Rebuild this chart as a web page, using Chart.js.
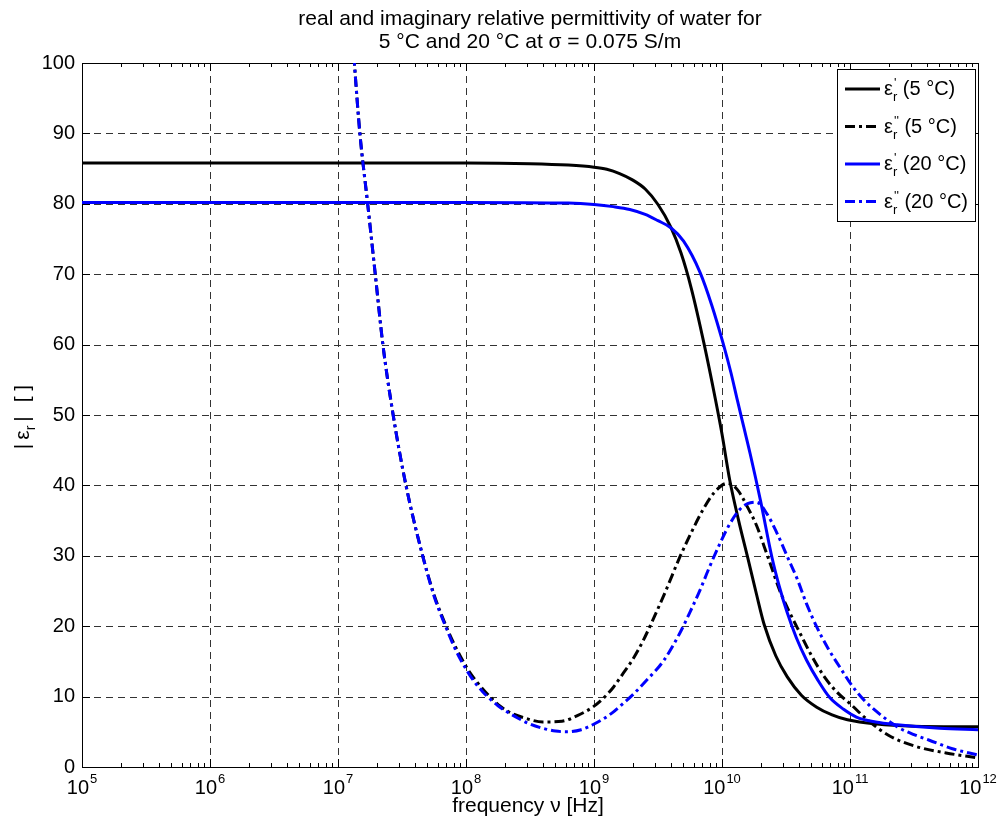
<!DOCTYPE html>
<html lang="en">
<head>
    <meta charset="UTF-8">
    <title>Permittivity of water</title>
    <script src="https://cdn.jsdelivr.net/npm/chart.js"></script>
    <style>
        body { margin: 0; padding: 0; background: #fff; }
        canvas { display: block; }
    </style>
</head>
<body>
    <canvas id="epsChart" width="998" height="827"></canvas>

    <script>
        // values, x given as log10(frequency in Hz)
        const expReal5 = [5, 7, 8, 8.5, 8.8, 9.0, 9.1, 9.2, 9.3, 9.4, 9.5, 9.6, 9.68, 9.76, 9.86, 9.95, 10.0, 10.06, 10.13, 10.2, 10.27, 10.33, 10.42, 10.51, 10.62, 10.74, 10.86, 10.98, 11.21, 11.5, 12];
        const epsReal5 = [85.8, 85.8, 85.8, 85.7, 85.5, 85.2, 84.9, 84.3, 83.4, 82.1, 79.9, 76.7, 73.0, 68.0, 60.1, 52.1, 47.3, 40.8, 35.0, 29.8, 24.5, 20.2, 15.8, 12.8, 10.2, 8.5, 7.4, 6.7, 6.1, 5.8, 5.7];

        const expImag5 = [7.1, 7.17, 7.23, 7.29, 7.35, 7.43, 7.53, 7.66, 7.75, 7.84, 7.92, 8.01, 8.08, 8.15, 8.27, 8.36, 8.45, 8.6, 8.75, 8.87, 8.99, 9.07, 9.15, 9.22, 9.3, 9.38, 9.45, 9.56, 9.67, 9.76, 9.85, 9.94, 10.04, 10.12, 10.2, 10.27, 10.33, 10.39, 10.45, 10.53, 10.61, 10.7, 10.8, 10.9, 11.0, 11.13, 11.3, 11.5, 11.75, 12];
        const epsImag5 = [107, 90.2, 80.3, 70.2, 60.1, 50.1, 40.1, 30.1, 24.5, 20.2, 17.0, 14.0, 12.2, 10.7, 8.6, 7.6, 7.0, 6.4, 6.5, 7.3, 8.5, 9.7, 11.3, 13.1, 15.2, 17.8, 20.5, 25.0, 29.8, 33.3, 36.5, 39.0, 40.3, 39.4, 36.9, 34.3, 31.3, 28.2, 25.1, 21.9, 19.0, 15.8, 12.8, 10.6, 9.0, 6.8, 4.5, 3.0, 2.0, 1.3];

        const expReal20 = [5, 8, 8.8, 9.0, 9.15, 9.28, 9.4, 9.5, 9.6, 9.7, 9.83, 9.92, 10.01, 10.07, 10.12, 10.17, 10.22, 10.3, 10.39, 10.45, 10.51, 10.58, 10.66, 10.75, 10.84, 10.95, 11.05, 11.2, 11.37, 11.7, 12];
        const epsReal20 = [80.2, 80.2, 80.1, 79.9, 79.6, 79.2, 78.5, 77.6, 76.6, 74.7, 70.2, 65.6, 60.1, 56.0, 52.1, 48.3, 44.5, 37.9, 29.8, 25.5, 21.9, 18.4, 15.2, 12.3, 9.9, 8.2, 7.1, 6.4, 6.0, 5.5, 5.3];

        const expImag20 = [7.1, 7.17, 7.23, 7.29, 7.35, 7.43, 7.53, 7.66, 7.75, 7.84, 7.92, 8.01, 8.07, 8.13, 8.25, 8.4, 8.5, 8.6, 8.7, 8.79, 8.9, 8.99, 9.07, 9.15, 9.22, 9.3, 9.42, 9.54, 9.67, 9.75, 9.83, 9.9, 9.98, 10.06, 10.14, 10.2, 10.27, 10.35, 10.43, 10.51, 10.59, 10.66, 10.74, 10.83, 10.92, 11.01, 11.11, 11.24, 11.37, 11.5, 11.62, 11.8, 12];
        const epsImag20 = [107, 90.2, 80.3, 70.2, 60.1, 50.1, 40.1, 30.1, 24.3, 20.0, 16.6, 13.6, 12.0, 10.7, 8.7, 7.0, 6.1, 5.5, 5.1, 5.0, 5.3, 6.0, 6.8, 7.8, 8.9, 10.2, 12.5, 15.0, 19.0, 22.0, 25.2, 28.3, 31.6, 34.5, 36.6, 37.4, 37.6, 36.0, 33.2, 29.9, 26.6, 23.2, 19.9, 16.8, 14.2, 11.7, 9.5, 7.4, 5.7, 4.6, 3.8, 2.6, 1.7];

        const decades = [5, 6, 7, 8, 9, 10, 11, 12];
        const yTicks = [0, 10, 20, 30, 40, 50, 60, 70, 80, 90, 100];
        const legendTemps = ['(5 °C)', '(5 °C)', '(20 °C)', '(20 °C)'];
        const legendPrimes = ["'", "''", "'", "''"];

        const FONT = '"Liberation Sans", Arial, sans-serif';
        const dashDot = [10, 4, 3, 4];

        function toPoints(exps, vals) {
            return exps.map((e, i) => ({ x: Math.pow(10, e), y: vals[i] }));
        }

        // epsilon with a prime up top and subscript r, returns the x after it
        function drawEps(ctx, x, y, primes, size) {
            ctx.font = size + 'px ' + FONT;
            ctx.fillText('ε', x, y);
            const w = ctx.measureText('ε').width;
            const small = Math.round(size * 0.65);
            ctx.font = small + 'px ' + FONT;
            ctx.fillText(primes, x + w + 1, y - size * 0.38);
            ctx.fillText('r', x + w, y + size * 0.32);
            const w2 = Math.max(ctx.measureText(primes).width + 1, ctx.measureText('r').width);
            ctx.font = size + 'px ' + FONT;
            return x + w + w2;
        }

        const framePlugin = {
            id: 'frame',
            beforeDatasetsDraw(chart) {
                const ctx = chart.ctx;
                const a = chart.chartArea;
                const xs = chart.scales.x, ys = chart.scales.y;
                ctx.save();
                // dashed grid
                ctx.strokeStyle = '#333';
                ctx.lineWidth = 1;
                ctx.setLineDash([7, 5]);
                decades.forEach(e => {
                    const px = Math.round(xs.getPixelForValue(Math.pow(10, e))) + 0.5;
                    ctx.beginPath();
                    ctx.moveTo(px, a.bottom);
                    ctx.lineTo(px, a.top);
                    ctx.stroke();
                });
                yTicks.forEach(v => {
                    const py = Math.round(ys.getPixelForValue(v)) + 0.5;
                    ctx.beginPath();
                    ctx.moveTo(a.left, py);
                    ctx.lineTo(a.right, py);
                    ctx.stroke();
                });
                ctx.setLineDash([]);
                ctx.strokeStyle = '#000';
                // inward tick marks
                ctx.beginPath();
                for (let e = 5; e < 12; e++) {
                    for (let k = 1; k <= 9; k++) {
                        const px = Math.round(xs.getPixelForValue(k * Math.pow(10, e))) + 0.5;
                        const len = k === 1 ? 8 : 4;
                        ctx.moveTo(px, a.bottom); ctx.lineTo(px, a.bottom - len);
                        ctx.moveTo(px, a.top); ctx.lineTo(px, a.top + len);
                    }
                }
                yTicks.forEach(v => {
                    const py = Math.round(ys.getPixelForValue(v)) + 0.5;
                    ctx.moveTo(a.left, py); ctx.lineTo(a.left + 8, py);
                    ctx.moveTo(a.right, py); ctx.lineTo(a.right - 8, py);
                });
                ctx.stroke();
                ctx.strokeRect(Math.round(a.left) + 0.5, Math.round(a.top) + 0.5,
                    Math.round(a.right - a.left), Math.round(a.bottom - a.top));

                // x tick labels 10^n
                ctx.fillStyle = '#000';
                ctx.textBaseline = 'alphabetic';
                decades.forEach(e => {
                    const px = xs.getPixelForValue(Math.pow(10, e));
                    ctx.font = '20px ' + FONT;
                    const wb = ctx.measureText('10').width;
                    ctx.font = '13px ' + FONT;
                    const we = ctx.measureText(String(e)).width;
                    const x0 = px - (wb + we + 1) / 2;
                    ctx.font = '20px ' + FONT;
                    ctx.textAlign = 'left';
                    ctx.fillText('10', x0, a.bottom + 27);
                    ctx.font = '13px ' + FONT;
                    ctx.fillText(String(e), x0 + wb + 1, a.bottom + 16);
                });

                // titles
                ctx.textAlign = 'center';
                ctx.font = '21px ' + FONT;
                const cx = (a.left + a.right) / 2;
                ctx.fillText('real and imaginary relative permittivity of water for', cx, 25);
                ctx.fillText('5 °C and 20 °C at σ = 0.075 S/m', cx, 48);
                ctx.fillText('frequency ν [Hz]', cx - 2, 812);

                // y title |eps_r| [ ]
                ctx.save();
                ctx.translate(29, 417);
                ctx.rotate(-Math.PI / 2);
                ctx.textAlign = 'left';
                ctx.font = '21px ' + FONT;
                const wBar = ctx.measureText('|').width;
                const wEps = ctx.measureText('ε').width;
                ctx.font = '14px ' + FONT;
                const wR = ctx.measureText('r').width;
                ctx.font = '21px ' + FONT;
                const wTail = ctx.measureText(' [ ]').width;
                const gap = 4;
                let tx = -(wBar * 2 + wEps + wR + wTail + gap * 4) / 2;
                ctx.fillText('|', tx, 0);
                tx += wBar + gap;
                ctx.fillText('ε', tx, 0);
                tx += wEps;
                ctx.font = '14px ' + FONT;
                ctx.fillText('r', tx, 6);
                tx += wR + gap;
                ctx.font = '21px ' + FONT;
                ctx.fillText('|', tx, 0);
                tx += wBar + gap * 2;
                ctx.fillText(' [ ]', tx, 0);
                ctx.restore();
                ctx.restore();
            },
            afterDatasetsDraw(chart) {
                const ctx = chart.ctx;
                const dsets = chart.data.datasets;
                ctx.save();
                const bx = 837.5, by = 69.5, bw = 138, bh = 152;
                ctx.fillStyle = '#fff';
                ctx.fillRect(bx, by, bw, bh);
                ctx.strokeStyle = '#000';
                ctx.lineWidth = 1;
                ctx.strokeRect(bx, by, bw, bh);
                dsets.forEach((ds, i) => {
                    const ly = 89 + i * 37.5;
                    ctx.strokeStyle = ds.borderColor;
                    ctx.lineWidth = 3;
                    ctx.setLineDash(ds.borderDash || []);
                    ctx.beginPath();
                    ctx.moveTo(845, ly);
                    ctx.lineTo(880, ly);
                    ctx.stroke();
                    ctx.setLineDash([]);
                    ctx.fillStyle = '#000';
                    ctx.textAlign = 'left';
                    ctx.textBaseline = 'alphabetic';
                    const nx = drawEps(ctx, 884, ly + 6, legendPrimes[i], 20);
                    ctx.fillText(' ' + legendTemps[i], nx, ly + 6);
                });
                ctx.restore();
            }
        };

        window.onload = () => {
            const ctx = document.getElementById('epsChart').getContext('2d');
            new Chart(ctx, {
                type: 'line',
                data: {
                    datasets: [
                        { label: "ε'r (5 °C)", data: toPoints(expReal5, epsReal5), borderColor: '#000000', borderWidth: 3, order: 3 },
                        { label: "ε''r (5 °C)", data: toPoints(expImag5, epsImag5), borderColor: '#000000', borderWidth: 3, borderDash: dashDot, order: 2 },
                        { label: "ε'r (20 °C)", data: toPoints(expReal20, epsReal20), borderColor: '#0000ff', borderWidth: 3, order: 1 },
                        { label: "ε''r (20 °C)", data: toPoints(expImag20, epsImag20), borderColor: '#0000ff', borderWidth: 3, borderDash: dashDot, order: 0 }
                    ]
                },
                options: {
                    responsive: false,
                    animation: false,
                    layout: { padding: { top: 63, right: 20, left: 0, bottom: 0 } },
                    elements: {
                        point: { radius: 0 },
                        line: { cubicInterpolationMode: 'monotone', fill: false, borderCapStyle: 'butt' }
                    },
                    plugins: {
                        legend: { display: false },
                        title: { display: false },
                        tooltip: { enabled: false }
                    },
                    scales: {
                        x: {
                            type: 'logarithmic',
                            min: 1e5,
                            max: 1e12,
                            grid: { display: false, drawTicks: false },
                            border: { display: false },
                            ticks: { display: false },
                            afterFit: s => { s.height = 60; }
                        },
                        y: {
                            min: 0,
                            max: 100,
                            grid: { display: false, drawTicks: false },
                            border: { display: false },
                            ticks: {
                                stepSize: 10,
                                padding: 7,
                                color: '#000',
                                font: { family: FONT, size: 20 }
                            },
                            afterFit: s => { s.width = 82; }
                        }
                    }
                },
                plugins: [framePlugin]
            });
        };
    </script>
</body>
</html>
